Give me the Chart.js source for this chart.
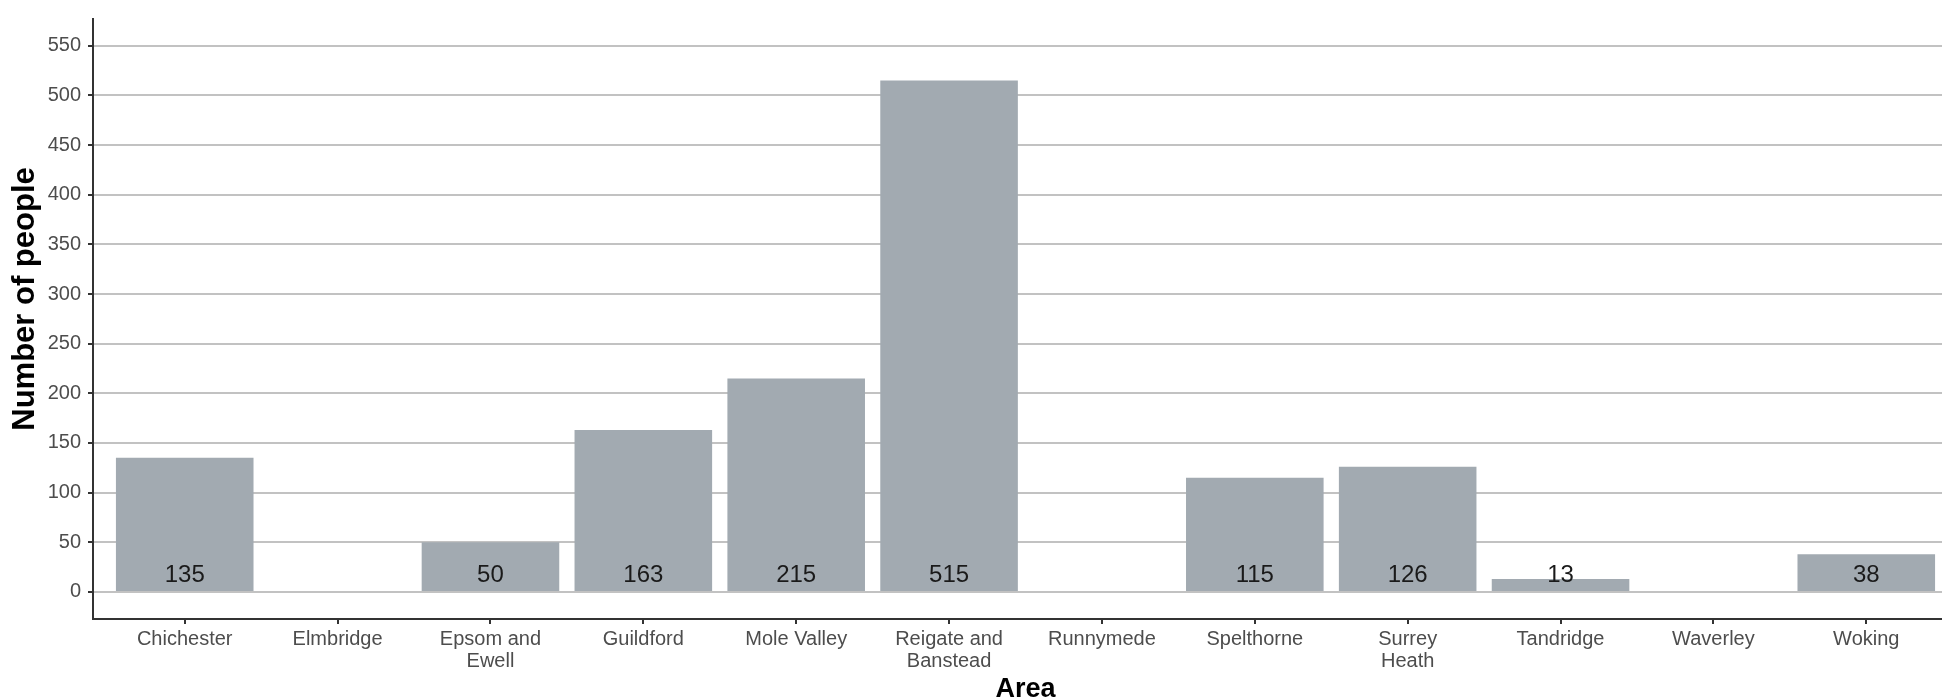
<!DOCTYPE html>
<html>
<head>
<meta charset="utf-8">
<script src="https://cdn.jsdelivr.net/npm/chart.js@4"></script>
<style>
  html, body { margin: 0; padding: 0; background: #fff; overflow: hidden; }
  #wrap { position: relative; width: 1962px; height: 700px; }
</style>
</head>
<body>
<div id="wrap"><canvas id="areaChart"></canvas></div>
<script>
const areas = ["Chichester", "Elmbridge", "Epsom and Ewell", "Guildford", "Mole Valley", "Reigate and Banstead",
    "Runnymede", "Spelthorne", "Surrey Heath", "Tandridge", "Waverley", "Woking"];
const areaTickLabels = [["Chichester"], ["Elmbridge"], ["Epsom and", "Ewell"], ["Guildford"], ["Mole Valley"],
    ["Reigate and", "Banstead"], ["Runnymede"], ["Spelthorne"], ["Surrey", "Heath"], ["Tandridge"], ["Waverley"], ["Woking"]];
const people = [135, null, 50, 163, 215, 515, null, 115, 126, 13, null, 38];
const yTicks = [0, 50, 100, 150, 200, 250, 300, 350, 400, 450, 500, 550];

Chart.defaults.font.family = '"Liberation Sans", Arial, sans-serif';

// count labels sit at a fixed height near the bottom of each bar
const barLabels = {
    id: 'barLabels',
    afterDatasetsDraw(chart) {
        const ctx = chart.ctx;
        const y = chart.scales.y.getPixelForValue(10);
        ctx.save();
        ctx.font = '24px "Liberation Sans", Arial, sans-serif';
        ctx.fillStyle = '#1a1a1a';
        ctx.textAlign = 'center';
        ctx.textBaseline = 'alphabetic';
        chart.getDatasetMeta(0).data.forEach((bar, i) => {
            if (people[i] == null) return;
            ctx.fillText(String(people[i]), bar.x, y);
        });
        ctx.restore();
    }
};

const yTitle = {
    id: 'yTitle',
    afterDraw(chart) {
        const ctx = chart.ctx;
        ctx.save();
        ctx.translate(25, 299);
        ctx.rotate(-Math.PI / 2);
        ctx.font = 'bold 31px "Liberation Sans", Arial, sans-serif';
        ctx.fillStyle = '#000';
        ctx.textAlign = 'center';
        ctx.textBaseline = 'middle';
        ctx.fillText('Number of people', 0, 0);
        ctx.restore();
    }
};

new Chart(document.getElementById('areaChart'), {
    type: 'bar',
    data: {
        datasets: [{
            data: people.map((v, i) => ({ x: i, y: v })),
            backgroundColor: '#a2aab1',
            borderWidth: 0,
            barPercentage: 0.9,
            categoryPercentage: 1
        }]
    },
    options: {
        responsive: true,
        maintainAspectRatio: false,
        animation: false,
        layout: { padding: { top: 12, right: 4, left: 0, bottom: 0 } },
        plugins: {
            legend: { display: false },
            tooltip: { enabled: false }
        },
        scales: {
            x: {
                type: 'linear',
                offset: false,
                min: -0.6,
                max: 11.6,
                afterBuildTicks: axis => { axis.ticks = areas.map((a, i) => ({ value: i })); },
                afterFit: axis => { axis.height = 81; },
                grid: { display: true, offset: false, drawOnChartArea: false, drawTicks: true, tickLength: 5, color: '#333', lineWidth: 2 },
                border: { display: true, color: '#333', width: 2 },
                ticks: {
                    autoSkip: false,
                    maxRotation: 0,
                    padding: 4,
                    color: '#4d4d4d',
                    font: { size: 20, lineHeight: 1.1 },
                    callback: v => areaTickLabels[v] || ''
                },
                title: {
                    display: true,
                    text: 'Area',
                    color: '#000',
                    font: { size: 27, weight: 'bold', lineHeight: 1 },
                    padding: { top: 0, bottom: -3 }
                }
            },
            y: {
                min: -27.3,
                max: 577,
                afterBuildTicks: axis => { axis.ticks = yTicks.map(v => ({ value: v })); },
                afterFit: axis => { axis.width = 93; },
                grid: { color: '#c2c2c2', lineWidth: 2, tickColor: '#333', tickLength: 5, drawTicks: true },
                border: { display: true, color: '#333', width: 2 },
                ticks: { padding: 7, color: '#4d4d4d', font: { size: 20 } }
            }
        }
    },
    plugins: [barLabels, yTitle]
});
</script>
</body>
</html>
